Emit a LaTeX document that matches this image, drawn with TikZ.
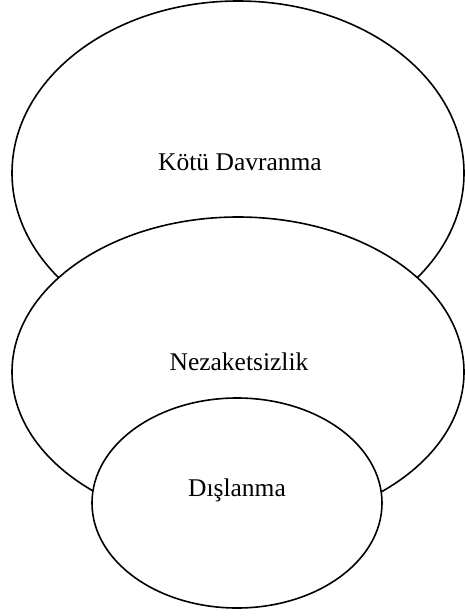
\documentclass[tikz,border=0pt]{standalone}
\usepackage{fontspec}
\setmainfont{Liberation Serif}
\usepackage{tikz}

\begin{document}
\begin{tikzpicture}[x=1pt, y=-1pt, line width=1.6pt,
  label/.style={font=\fontsize{25.5}{30}\selectfont, inner sep=0pt}]

\useasboundingbox (0, 0) rectangle (465, 616);

	\coordinate (top) at (238, 173);
	\coordinate (mid) at (238, 372);
	\coordinate (low) at (237, 503);

	% Draw the three ellipses, lower ones on top
	\draw (top) ellipse [x radius=226, y radius=172];
	\draw[fill=white] (mid) ellipse [x radius=226, y radius=155];
	\draw[fill=white] (low) ellipse [x radius=145, y radius=105];

	\node[label] (kotu) at (240, 162) {Kötü Davranma};
	\node[label] (nezaket) at (239, 362) {Nezaketsizlik};
	\node[label] (dislanma) at (237, 490) {Dışlanma};

\end{tikzpicture}
\end{document}
